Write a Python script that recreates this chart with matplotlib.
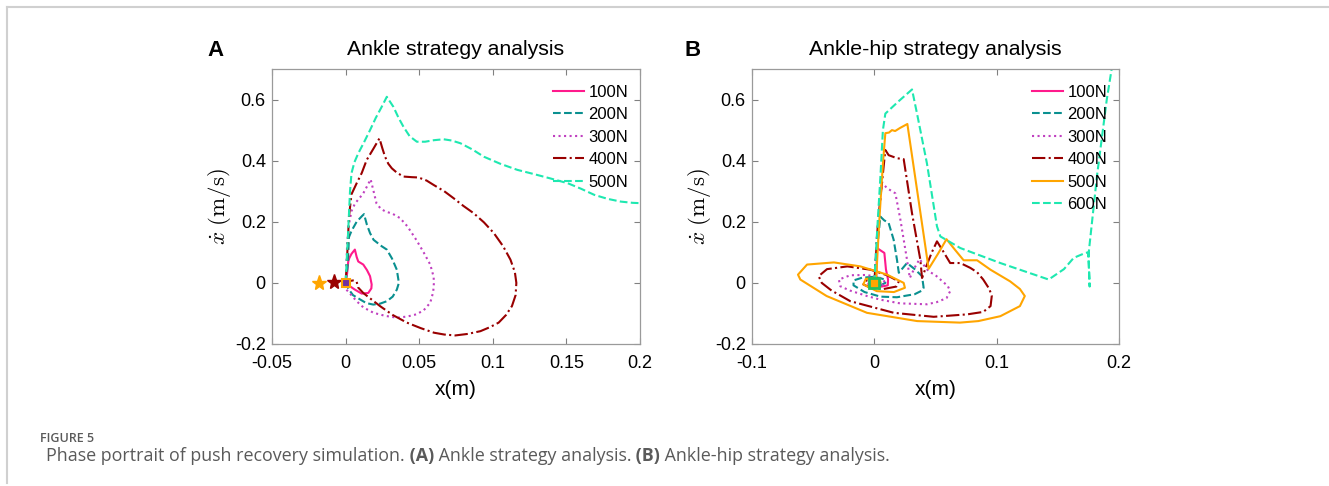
import matplotlib
matplotlib.use("Agg")
import matplotlib.pyplot as plt
from matplotlib.lines import Line2D

# ---------------- data ----------------
forces_a = ["100N", "200N", "300N", "400N", "500N"]
forces_b = ["100N", "200N", "300N", "400N", "500N", "600N"]

# panel A : ankle strategy
a100_x = [0, 0.001, 0.0018, 0.0025, 0.004, 0.0063, 0.0075, 0.0086, 0.012, 0.0145, 0.0166, 0.0177, 0.0175, 0.0154, 0.0109, 0.0063, 0.002, 0]
a100_y = [0, 0.03, 0.07, 0.081, 0.095, 0.109, 0.085, 0.07, 0.06, 0.042, 0.022, -0.005, -0.018, -0.033, -0.035, -0.022, -0.008, 0]

a200_x = [0, 0.0015, 0.0023, 0.004, 0.0075, 0.011, 0.0125, 0.0145, 0.0166, 0.019, 0.0245, 0.028, 0.0315, 0.0348, 0.0362, 0.0348, 0.032, 0.028, 0.0234, 0.0188, 0.014, 0.0098, 0.005, 0.002, 0]
a200_y = [0, 0.06, 0.15, 0.17, 0.2, 0.218, 0.225, 0.19, 0.163, 0.141, 0.12, 0.109, 0.08, 0.043, 0.0, -0.022, -0.045, -0.06, -0.068, -0.071, -0.066, -0.054, -0.04, -0.02, 0]

a300_x = [0, 0.0005, 0.001, 0.002, 0.004, 0.0064, 0.009, 0.012, 0.015, 0.017, 0.019, 0.021, 0.024, 0.027, 0.032, 0.037, 0.042, 0.048, 0.053, 0.0575, 0.0598,
          0.060, 0.0595, 0.0575, 0.053, 0.048, 0.042, 0.035, 0.027, 0.019, 0.012, 0.0075, 0.003, -0.0016, 0]
a300_y = [0, 0.05, 0.12, 0.185, 0.235, 0.26, 0.275, 0.293, 0.32, 0.339, 0.3, 0.26, 0.242, 0.234, 0.226, 0.212, 0.185, 0.141, 0.1, 0.06, 0.02,
          0.0, -0.03, -0.065, -0.09, -0.103, -0.11, -0.114, -0.108, -0.098, -0.08, -0.06, -0.035, -0.011, 0]

a400_x = [0, 0.001, 0.0023, 0.004, 0.0075, 0.011, 0.0143, 0.019, 0.023, 0.025, 0.0268, 0.029, 0.0314, 0.035, 0.0393, 0.045, 0.0495, 0.055, 0.06, 0.067,
          0.0734, 0.08, 0.087, 0.094, 0.1007, 0.107, 0.112, 0.115, 0.116, 0.1155, 0.113, 0.109, 0.104, 0.098, 0.0916, 0.083, 0.0745, 0.067, 0.06,
          0.051, 0.0416, 0.032, 0.0234, 0.017, 0.012, 0.0085, 0.0075, 0.005, 0.0015, 0]
a400_y = [0, 0.08, 0.217, 0.29, 0.326, 0.36, 0.402, 0.44, 0.473, 0.44, 0.413, 0.39, 0.375, 0.36, 0.348, 0.346, 0.345, 0.335, 0.32, 0.3,
          0.277, 0.252, 0.228, 0.198, 0.163, 0.12, 0.076, 0.035, 0.0, -0.04, -0.076, -0.105, -0.13, -0.145, -0.158, -0.167, -0.172, -0.169, -0.163,
          -0.148, -0.13, -0.105, -0.076, -0.052, -0.033, -0.015, 0.004, 0.008, 0.005, 0]

a500_x = [0, 0.001, 0.0018, 0.003, 0.004, 0.006, 0.0086, 0.0125, 0.0166, 0.0205, 0.0245, 0.028, 0.0325, 0.036, 0.0393, 0.0435, 0.0484, 0.054,
          0.06, 0.0666, 0.072, 0.078, 0.086, 0.0939, 0.105, 0.1166, 0.128, 0.139, 0.151, 0.16, 0.169, 0.178, 0.187, 0.195, 0.2]
a500_y = [0, 0.1, 0.174, 0.3, 0.359, 0.395, 0.424, 0.46, 0.5, 0.54, 0.576, 0.609, 0.576, 0.54, 0.511, 0.48, 0.462, 0.462,
          0.467, 0.47, 0.466, 0.457, 0.437, 0.413, 0.39, 0.37, 0.356, 0.342, 0.326, 0.308, 0.288, 0.275, 0.266, 0.262, 0.261]

# panel B : ankle-hip strategy
b100_x = [0, 0.0016, 0.0022, 0.0063, 0.0082, 0.0095, 0.0112, 0.011, 0.006, 0, -0.005, -0.004, 0.001, 0.003, 0]
b100_y = [0, 0.022, 0.114, 0.103, 0.098, 0.044, 0.011, -0.008, -0.012, -0.01, -0.004, 0.004, 0.005, 0.0, 0]

b200_x = [0, 0.002, 0.0049, 0.008, 0.0117, 0.0158, 0.0185, 0.02, 0.0267, 0.033, 0.039, 0.0403, 0.039, 0.033, 0.0185, 0.005, -0.008, -0.017,
          -0.017, -0.01, 0.0, 0.008, 0.009, 0.005, -0.002, 0]
b200_y = [0, 0.1, 0.217, 0.205, 0.196, 0.141, 0.076, 0.033, 0.065, 0.045, 0.022, -0.016, -0.025, -0.037, -0.047, -0.045, -0.03, -0.008,
          0.008, 0.017, 0.02, 0.012, 0.0, -0.008, -0.008, 0]

b300_x = [0, 0.002, 0.0063, 0.0104, 0.0172, 0.0213, 0.0267, 0.029, 0.033, 0.037, 0.041, 0.0444, 0.05, 0.054, 0.06, 0.062, 0.059, 0.051, 0.043,
          0.021, 0.005, -0.006, -0.02, -0.0278, -0.029, -0.0196, -0.006, 0.0063, 0.009, 0.005, 0.002, -0.0046, 0]
b300_y = [0, 0.15, 0.328, 0.31, 0.293, 0.207, 0.076, 0.016, 0.05, 0.078, 0.055, 0.038, 0.025, 0.011, -0.01, -0.027, -0.05, -0.063, -0.07,
          -0.067, -0.055, -0.043, -0.025, -0.011, 0.011, 0.025, 0.026, 0.015, 0.0, -0.011, -0.013, -0.005, 0]

b400_x = [0, 0.003, 0.009, 0.0117, 0.0185, 0.024, 0.0308, 0.0376, 0.039, 0.043, 0.047, 0.0512, 0.056, 0.062, 0.0703, 0.0785, 0.084, 0.089,
          0.094, 0.096, 0.095, 0.089, 0.076, 0.0485, 0.016, -0.0196, -0.035, -0.043, -0.0455, -0.0387, -0.022, -0.003, 0.0104, 0.02, 0.018,
          0.0076, -0.003, -0.009, -0.006, 0.003, 0.005, 0]
b400_y = [0, 0.2, 0.435, 0.418, 0.408, 0.405, 0.228, 0.076, 0.016, 0.06, 0.1, 0.136, 0.105, 0.065, 0.065, 0.049, 0.035, 0.011,
          -0.02, -0.043, -0.076, -0.095, -0.103, -0.111, -0.098, -0.06, -0.025, 0.0, 0.022, 0.045, 0.054, 0.043, 0.025, 0.005, -0.012,
          -0.02, -0.016, -0.005, 0.009, 0.01, 0.0, 0]

b500_x = [0, 0.0016, 0.004, 0.007, 0.009, 0.012, 0.0144, 0.017, 0.021, 0.027, 0.0444, 0.052, 0.059, 0.066, 0.073, 0.084, 0.095, 0.111, 0.119,
          0.123, 0.119, 0.103, 0.085, 0.070, 0.035, -0.006, -0.039, -0.0605, -0.0624, -0.055, -0.033, -0.0114, 0.0104, 0.024, 0.025, 0.016,
          0.002, -0.009, -0.007, 0, 0.005, 0]
b500_y = [0, 0.022, 0.2, 0.39, 0.49, 0.492, 0.5, 0.497, 0.507, 0.52, 0.046, 0.095, 0.143, 0.108, 0.074, 0.074, 0.043, 0.005, -0.02,
          -0.043, -0.076, -0.109, -0.125, -0.13, -0.125, -0.098, -0.043, 0.011, 0.027, 0.06, 0.067, 0.054, 0.027, 0.0, -0.016, -0.03,
          -0.027, -0.005, 0.013, 0.016, 0.005, 0]

b600_x = [0, 0.002, 0.005, 0.007, 0.009, 0.02, 0.0308, 0.0349, 0.043, 0.0512, 0.054, 0.0703, 0.103, 0.1425, 0.155, 0.163, 0.1725, 0.175,
          0.176, 0.175, 0.182, 0.19, 0.196]
b600_y = [0, 0.15, 0.35, 0.5, 0.554, 0.595, 0.633, 0.554, 0.391, 0.185, 0.152, 0.114, 0.065, 0.011, 0.045, 0.082, 0.098, 0.1,
          -0.012, 0.09, 0.35, 0.6, 0.75]

# start markers
a_star_x = [-0.018, -0.008]
a_star_y = [0, 0.002]

a_xticks = [-0.05, 0, 0.05, 0.1, 0.15, 0.2]
a_xlabels = ["-0.05", "0", "0.05", "0.1", "0.15", "0.2"]
b_xticks = [-0.1, 0, 0.1, 0.2]
b_xlabels = ["-0.1", "0", "0.1", "0.2"]
yticks = [-0.2, 0, 0.2, 0.4, 0.6]
ylabels = ["-0.2", "0", "0.2", "0.4", "0.6"]

# ---------------- styles ----------------
c_pink = "#ff1a8c"
c_teal = "#0a9090"
c_mag = "#c040c0"
c_red = "#990000"
c_orange = "#ffa500"
c_green = "#1ee8b0"

plt.rcParams["font.family"] = ["Liberation Sans", "DejaVu Sans"]
plt.rcParams["axes.unicode_minus"] = False

fig = plt.figure(figsize=(13.29, 4.86), dpi=100)
W, H = 1329, 486

ax_a = fig.add_axes([272 / W, 1 - 344 / H, 368 / W, 275 / H])
ax_b = fig.add_axes([752 / W, 1 - 344 / H, 367 / W, 275 / H])

lw = 1.5
ax_a.plot(a100_x, a100_y, color=c_pink, lw=lw, ls="-", label=forces_a[0])
ax_a.plot(a200_x, a200_y, color=c_teal, lw=lw, ls="--", label=forces_a[1])
ax_a.plot(a300_x, a300_y, color=c_mag, lw=lw, ls=":", label=forces_a[2])
ax_a.plot(a400_x, a400_y, color=c_red, lw=lw, ls="-.", label=forces_a[3])
ax_a.plot(a500_x, a500_y, color=c_green, lw=lw, ls="--", label=forces_a[4])
ax_a.plot(a_star_x[0], a_star_y[0], marker="*", ms=11, color=c_orange, ls="none")
ax_a.plot(a_star_x[1], a_star_y[1], marker="*", ms=11, color=c_red, ls="none")
ax_a.plot(0, 0, marker="s", ms=6, mfc="#7030a0", mec=c_orange, mew=1.5, ls="none")

ax_b.plot(b100_x, b100_y, color=c_pink, lw=lw, ls="-", label=forces_b[0])
ax_b.plot(b200_x, b200_y, color=c_teal, lw=lw, ls="--", label=forces_b[1])
ax_b.plot(b300_x, b300_y, color=c_mag, lw=lw, ls=":", label=forces_b[2])
ax_b.plot(b400_x, b400_y, color=c_red, lw=lw, ls="-.", label=forces_b[3])
ax_b.plot(b500_x, b500_y, color=c_orange, lw=lw, ls="-", label=forces_b[4])
ax_b.plot(b600_x, b600_y, color=c_green, lw=lw, ls="--", label=forces_b[5])
ax_b.plot(0, 0, marker="s", ms=7, mfc=c_orange, mec="#20c060", mew=2, ls="none")

for ax, xt, xl, xlim in [(ax_a, a_xticks, a_xlabels, (-0.05, 0.2)),
                         (ax_b, b_xticks, b_xlabels, (-0.1, 0.2))]:
    ax.set_xlim(*xlim)
    ax.set_ylim(-0.2, 0.7)
    ax.set_xticks(xt)
    ax.set_xticklabels(xl)
    ax.set_yticks(yticks)
    ax.set_yticklabels(ylabels)
    ax.tick_params(direction="in", top=True, right=True, length=4, width=0.8,
                   color="#808080", labelsize=13)
    ax.tick_params(axis="x", pad=8)
    ax.tick_params(axis="y", pad=4.5)
    for sp in ax.spines.values():
        sp.set_color("#9a9a9a")
        sp.set_linewidth(0.9)
    ax.set_xlabel("x(m)", fontsize=15, labelpad=6)
    ax.set_ylabel(r"$\dot{x}\ \mathrm{(m/s)}$", fontsize=16.5, labelpad=1, math_fontfamily="cm")
    ax.legend(loc="upper right", frameon=False, fontsize=12, handlelength=1.9,
              handletextpad=0.25, labelspacing=0.45, borderaxespad=0.3,
              bbox_to_anchor=(1.0, 0.985))

ax_a.set_title("Ankle strategy analysis", fontsize=15.3, pad=10)
ax_b.set_title("Ankle-hip strategy analysis", fontsize=15.3, pad=10)
fig.text(207 / W, 1 - 51 / H, "A", fontsize=16, fontweight="bold", va="center")
fig.text(684 / W, 1 - 51 / H, "B", fontsize=16, fontweight="bold", va="center")

# page frame lines
fig.add_artist(Line2D([7 / W, 1], [1 - 7 / H, 1 - 7 / H], transform=fig.transFigure, color="#d0d0d0", lw=1.5))
fig.add_artist(Line2D([7 / W, 7 / W], [1 - 7 / H, 1 - 483 / H], transform=fig.transFigure, color="#d0d0d0", lw=1.5))

# caption
fig.text(40 / W, 1 - 438 / H, "FIGURE 5", fontsize=9, color="#5a5a5a",
         family=["Open Sans", "DejaVu Sans"], fontweight="semibold", va="center")

pieces = [("Phase portrait of push recovery simulation.", "normal"),
          (" (A)", "bold"),
          (" Ankle strategy analysis.", "normal"),
          (" (B)", "bold"),
          (" Ankle-hip strategy analysis.", "normal")]
renderer = fig.canvas.get_renderer()
x = 46
for s, wgt in pieces:
    t = fig.text(x / W, 1 - 456 / H, s, fontsize=12.9, color="#5a5a5a",
                 family=["Open Sans", "DejaVu Sans"], fontweight=wgt, va="center")
    bb = t.get_window_extent(renderer)
    x = bb.x1

fig.savefig("out.png", dpi=100)
